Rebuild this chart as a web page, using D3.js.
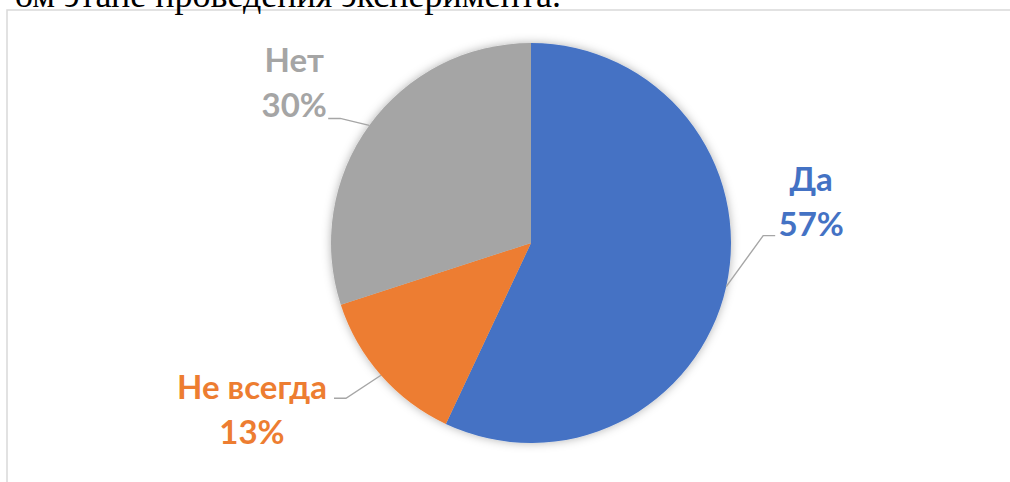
<!DOCTYPE html>
<html lang="ru">
<head>
    <meta charset="UTF-8">
    <title>Pie</title>
    <script src="https://d3js.org/d3.v7.min.js"></script>
    <style>
        body {
            margin: 0;
            padding: 0;
            background: #ffffff;
            overflow: hidden;
        }
        svg {
            display: block;
        }
        .caption {
            font-family: "Liberation Serif", "Times New Roman", serif;
            font-size: 36px;
            fill: #000;
        }
        .label-text {
            font-family: Lato, "Open Sans", sans-serif;
            font-size: 33px;
            font-weight: bold;
            text-anchor: middle;
        }
    </style>
</head>
<body>
    <svg width="1010" height="482"></svg>

    <script>
        // data
        const categories = ["Да", "Не всегда", "Нет"];
        const values = [57, 13, 30];
        const colors = ["#4472C4", "#ED7D31", "#A5A5A5"];

        // label placement (elbow offset from slice edge, text offset from line end)
        const labelLayout = {
            "Да":        { elbow: [37, -51], side: 1,  text: [36, -45] },
            "Не всегда": { elbow: [-35, 23], side: -1, text: [-82, 1] },
            "Нет":       { elbow: [-29, -7], side: -1, text: [-34, -46] }
        };

        const svg = d3.select("svg");
        const width = +svg.attr("width");
        const height = +svg.attr("height");

        const cx = 531, cy = 243, radius = 200;

        // chart frame (runs off the page on right and bottom)
        svg.append("rect")
            .attr("x", 7)
            .attr("y", 10)
            .attr("width", width + 20)
            .attr("height", height + 20)
            .attr("fill", "none")
            .attr("stroke", "#d9d9d9")
            .attr("stroke-width", 1.5);

        // tail of the document text above the chart
        svg.append("text")
            .attr("class", "caption")
            .attr("x", 561)
            .attr("y", 7)
            .attr("text-anchor", "end")
            .text("ом этапе проведения эксперимента.");

        const defs = svg.append("defs");
        const shadow = defs.append("filter")
            .attr("id", "shadow")
            .attr("x", "-20%").attr("y", "-20%")
            .attr("width", "140%").attr("height", "140%");
        shadow.append("feDropShadow")
            .attr("dx", 0).attr("dy", 0)
            .attr("stdDeviation", 5)
            .attr("flood-color", "#000")
            .attr("flood-opacity", 0.3);

        const pieData = categories.map((c, i) => ({ name: c, value: values[i], color: colors[i] }));

        const pie = d3.pie()
            .sort(null)
            .value(d => d.value);

        const arc = d3.arc().innerRadius(0).outerRadius(radius);
        const edgeArc = d3.arc().innerRadius(radius).outerRadius(radius);

        const g = svg.append("g")
            .attr("transform", `translate(${cx},${cy})`);

        const arcs = pie(pieData);

        g.append("g")
            .attr("filter", "url(#shadow)")
            .selectAll("path")
            .data(arcs)
            .enter()
            .append("path")
            .attr("d", arc)
            .attr("fill", d => d.data.color);

        arcs.forEach(function(d) {
            const lay = labelLayout[d.data.name];
            const edge = edgeArc.centroid(d);
            const elbow = [edge[0] + lay.elbow[0], edge[1] + lay.elbow[1]];
            const end = [elbow[0] + lay.side * 12, elbow[1]];

            g.append("polyline")
                .attr("points", [edge, elbow, end].map(p => p.join(",")).join(" "))
                .attr("fill", "none")
                .attr("stroke", "#A6A6A6")
                .attr("stroke-width", 1.4);

            const tx = end[0] + lay.text[0];
            const ty = end[1] + lay.text[1];

            g.append("text")
                .attr("class", "label-text")
                .attr("x", tx)
                .attr("y", ty)
                .attr("fill", d.data.color)
                .text(d.data.name);

            g.append("text")
                .attr("class", "label-text")
                .attr("x", tx)
                .attr("y", ty + 45)
                .attr("fill", d.data.color)
                .text(d.data.value + "%");
        });
    </script>
</body>
</html>
